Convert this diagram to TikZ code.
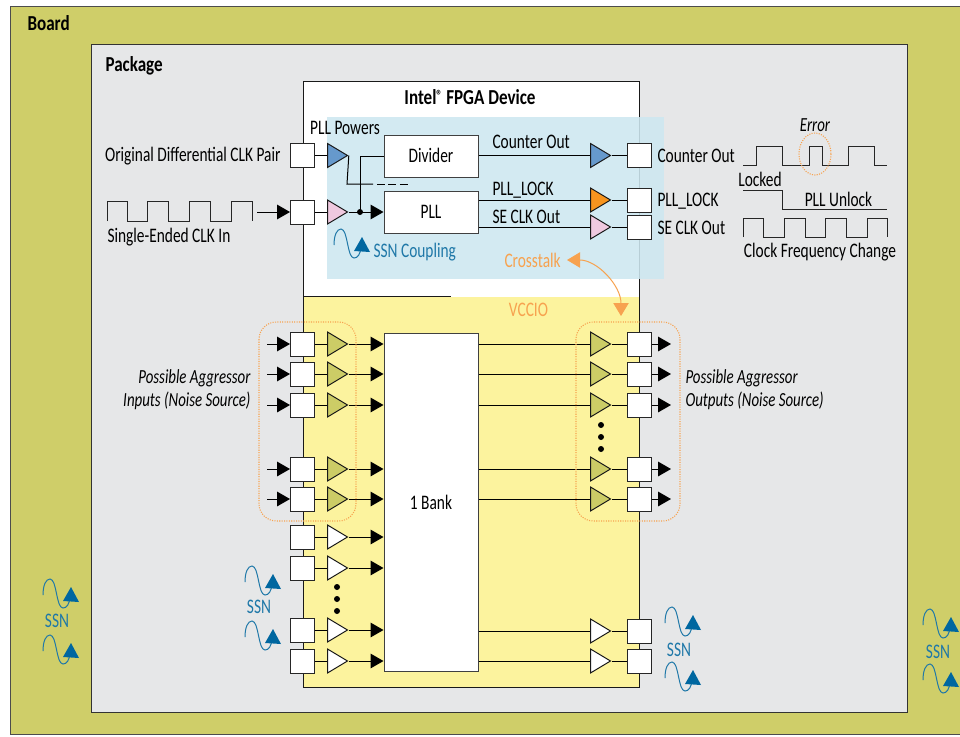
\documentclass[tikz,border=0pt]{standalone}
\usepackage{fontspec}
\setmainfont[FakeStretch=0.745, BoldFeatures={FakeStretch=0.8}]{Carlito}
\usetikzlibrary{arrows.meta,shapes.geometric}
\definecolor{boardcol}{HTML}{CFCE69}
\definecolor{packcol}{HTML}{E6E7E8}
\definecolor{bankcol}{HTML}{FCF39E}
\definecolor{ssnzone}{HTML}{CDE8F1}
\definecolor{ssnblue}{HTML}{1F78A8}
\definecolor{arrowblue}{HTML}{0067A0}
\definecolor{xtalk}{HTML}{F7A24F}
\definecolor{buffolive}{HTML}{CCCC66}
\definecolor{buffblue}{HTML}{6699CC}
\definecolor{buffpink}{HTML}{EFC9DF}
\definecolor{bufforange}{HTML}{F7941E}
\tikzset{
  padbox/.style={draw=black!85, fill=white, minimum size=18pt, inner sep=0pt},
  buff/.style={draw=black!90, fill=white, isosceles triangle, isosceles triangle stretches,
    minimum width=18pt, minimum height=15pt, inner sep=0pt, anchor=lower side},
  lbl/.style={inner sep=0pt, text height=10pt, text depth=0pt, font=\fontsize{15.5}{16}\selectfont},
  blbl/.style={lbl, font=\fontsize{16}{16}\selectfont\bfseries},
  ilbl/.style={lbl, font=\fontsize{15}{16}\selectfont\itshape},
  corebox/.style={draw=black!75, fill=white, lbl},
  zone/.style={draw=xtalk, line width=0.8pt, dash pattern=on 0.8pt off 1pt, rounded corners=13pt},
  ssnwave/.pic={
    \draw[ssnblue, line width=0.75pt] (0,0) .. controls (0,-10) and (3,-16) .. (7,-16)
      .. controls (14,-16) and (13,13) .. (20,13) .. controls (24,13) and (26,9) .. (27,3);
    \fill[arrowblue] (28,-8) -- (36,7) -- (20,6) -- cycle;
  },
}
\begin{document}
\begin{tikzpicture}[x=0.75pt, y=-0.75pt, >={Triangle[length=9.75pt,width=11pt]}, line width=0.75pt]
  \useasboundingbox (0,0) rectangle (960,736);
  % Board and package
  \draw[fill=boardcol, draw=black!70] (10,6) rectangle (960,734);
  \draw[fill=packcol, draw=black!80] (91,44) rectangle (907,712);
  \node[blbl, anchor=west] (board) at (27,23.5) {Board};
  \node[blbl, anchor=west] (pack) at (105,64.5) {Package};
  % Device
  \fill[white] (303,81) rectangle (639,297);
  \fill[bankcol] (303,297) rectangle (639,687);
  \draw[black!90] (303,687) -- (303,81) -- (639,81) -- (639,687) -- cycle;
  \draw[black!90] (303,296) -- (451,296);
  \node[blbl] (fpga) at (470,97.5) {Intel{\fontsize{11}{11}\selectfont\raisebox{3pt}{®}} FPGA Device};
  \fill[ssnzone, opacity=0.88] (327,117) rectangle (664,279);
  % Clock part, left
  \node[padbox] (padD) at (302.5,155.5) {};
  \node[padbox] (padS) at (302.5,212) {};
  \node[buff, fill=buffblue] (buffD) at (327,155.5) {};
  \node[buff, fill=buffpink] (buffS) at (327,212) {};
  \node[corebox, minimum width=70.5pt, minimum height=31.5pt] (divider) at (431,156) {Divider};
  \node[corebox, minimum width=70.5pt, minimum height=31.5pt] (pll) at (431,212) {PLL};
  \draw (padD) -- (buffD);
  \draw (padS) -- (buffS);
  \coordinate (dashstart) at (347,184);
  \draw (buffD.apex) -- (dashstart) -- (373,184);
  \draw[dash pattern=on 6pt off 2.6pt] (377,184) -- (409,184);
  \coordinate (branch) at (360,212);
  \draw (divider.west) -- (360,156) -- (branch);
  \draw[->] (buffS.apex) -- (pll.west);
  \fill (branch) circle (3);
  % Clock part, right
  \node[padbox] (padCO) at (639,155.5) {};
  \node[padbox] (padLK) at (639,200) {};
  \node[padbox] (padSE) at (639,227) {};
  \node[buff, fill=buffblue] (buffCO) at (590,155.5) {};
  \node[buff, fill=bufforange] (buffLK) at (590,200) {};
  \node[buff, fill=buffpink] (buffSE) at (590,227) {};
  \draw (divider.east |- buffCO) -- (buffCO.lower side);
  \draw (pll.east |- buffLK) -- (buffLK.lower side);
  \draw (pll.east |- buffSE) -- (buffSE.lower side);
  \draw (buffCO.apex) -- (padCO);
  \draw (buffLK.apex) -- (padLK);
  \draw (buffSE.apex) -- (padSE);
  % Clock labels
  \node[lbl] (plp) at (345,128) {PLL Powers};
  \node[lbl, anchor=east] (odc) at (281,155) {Original Differential CLK Pair};
  \node[lbl, anchor=west] (sei) at (107,236) {Single-Ended CLK In};
  \node[lbl, anchor=west] (cot) at (492,142) {Counter Out};
  \node[lbl, anchor=west] (lkt) at (492,189) {PLL\_LOCK};
  \node[lbl, anchor=west] (set) at (492,217) {SE CLK Out};
  \node[lbl, anchor=west] (cor) at (657,156) {Counter Out};
  \node[lbl, anchor=west] (lkr) at (657,200) {PLL\_LOCK};
  \node[lbl, anchor=west] (ser) at (657,228) {SE CLK Out};
  % Input clock wave
  \draw[black!85] (107,221) -- (107,201) -- (127,201) -- (127,221) -- (147,221) -- (147,201) -- (168,201)
    -- (168,221) -- (189,221) -- (189,201) -- (210,201) -- (210,221) -- (231,221) -- (231,201)
    -- (252,201) -- (252,221);
  \coordinate (clkin) at (257,212);
  \draw[->] (clkin) -- (padS.west);
  % Waves, right
  \draw[black!85] (743,165) -- (756,165) -- (756,146) -- (782,146) -- (782,165) -- (809,165) -- (809,146)
    -- (822,146) -- (822,165) -- (848,165) -- (848,146) -- (874,146) -- (874,165) -- (887,165);
  \draw[black!85] (743,190) -- (782,190) -- (782,209) -- (887,209);
  \draw[black!85] (743,237) -- (743,218) -- (763,218) -- (763,237) -- (784,237) -- (784,218) -- (805,218)
    -- (805,237) -- (825,237) -- (825,218) -- (846,218) -- (846,237) -- (867,237) -- (867,218)
    -- (887,218) -- (887,237);
  \node[ilbl] (err) at (815,125) {Error};
  \node[lbl] (lck) at (760,180) {Locked};
  \node[lbl] (unl) at (838.5,200) {PLL Unlock};
  \node[lbl] (cfc) at (820,251) {Clock Frequency Change};
  \draw[zone] (815,154) ellipse (16 and 21);
  % Bank
  \node[corebox, minimum width=70.5pt, minimum height=254pt] (bank) at (431,502.5) {1 Bank};
  \foreach \y in {344,374,405,469,499} {
    \coordinate (in\y) at (267,\y);
    \node[padbox] (padI\y) at (302.5,\y) {};
    \node[buff, fill=buffolive] (buffI\y) at (327,\y) {};
    \draw[->] (in\y) -- (padI\y.west);
    \draw (padI\y) -- (buffI\y);
    \draw[->] (buffI\y.apex) -- (bank.west |- buffI\y.apex);
    \node[buff, fill=buffolive] (buffO\y) at (590,\y) {};
    \node[padbox] (padO\y) at (639,\y) {};
    \coordinate (out\y) at (671,\y);
    \draw (bank.east |- buffO\y.lower side) -- (buffO\y.lower side);
    \draw (buffO\y.apex) -- (padO\y);
    \draw[->] (padO\y.east) -- (out\y);
  }
  \foreach \y in {537,568,630,661} {
    \node[padbox] (padI\y) at (302.5,\y) {};
    \node[buff] (buffI\y) at (327,\y) {};
    \draw (padI\y) -- (buffI\y);
    \draw[->] (buffI\y.apex) -- (bank.west |- buffI\y.apex);
  }
  \foreach \y in {631,661} {
    \node[buff] (buffO\y) at (590,\y) {};
    \node[padbox] (padO\y) at (639,\y) {};
    \draw (bank.east |- buffO\y.lower side) -- (buffO\y.lower side);
    \draw (buffO\y.apex) -- (padO\y);
  }
  \foreach \y in {425,437,449} \fill (601,\y) circle (3);
  \foreach \y in {587,599,611} \fill (337,\y) circle (3);
  % Aggressors
  \draw[zone] (259,322) rectangle (356,521);
  \draw[zone] (576,322) rectangle (680,521);
  \node[ilbl, anchor=east] (aggIa) at (251,377) {Possible Aggressor};
  \node[ilbl, anchor=east] (aggIb) at (251,400) {Inputs (Noise Source)};
  \node[ilbl, anchor=west] (aggOa) at (685,377) {Possible Aggressor};
  \node[ilbl, anchor=west] (aggOb) at (685,400) {Outputs (Noise Source)};
  % Crosstalk
  \node[lbl, text=xtalk, anchor=west] (cross) at (504,261) {Crosstalk};
  \node[lbl, text=xtalk] (vccio) at (528.5,309.5) {VCCIO};
  \coordinate (crossend) at (567,260);
  \coordinate (vccend) at (621,316);
  \draw[xtalk, <->, >={Triangle[length=9.75pt,width=11.5pt]}] (crossend) to[out=0, in=90] (vccend);
  % SSN
  \pic at (334,245) {ssnwave};
  \node[lbl, text=ssnblue, anchor=west] (ssnc) at (373,250.5) {SSN Coupling};
  \pic at (245,582) {ssnwave};
  \pic at (245,637) {ssnwave};
  \node[lbl, text=ssnblue] (ssnA) at (259,607) {SSN};
  \pic at (43,595) {ssnwave};
  \pic at (43,651) {ssnwave};
  \node[lbl, text=ssnblue] (ssnB) at (57,621) {SSN};
  \pic at (665,623) {ssnwave};
  \pic at (665,678) {ssnwave};
  \node[lbl, text=ssnblue] (ssnC) at (679,650) {SSN};
  \pic at (923,625) {ssnwave};
  \pic at (923,680) {ssnwave};
  \node[lbl, text=ssnblue] (ssnD) at (938,652) {SSN};
\end{tikzpicture}
\end{document}
